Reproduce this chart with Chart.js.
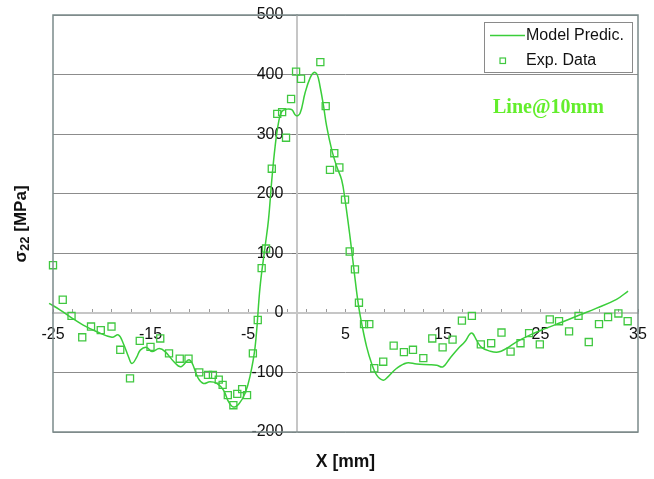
<!DOCTYPE html>
<html>
<head>
<meta charset="utf-8">
<script src="https://cdn.jsdelivr.net/npm/chart.js@4/dist/chart.umd.min.js"></script>
<style>
  html, body { margin: 0; padding: 0; background: #fff; }
  #wrap { width: 654px; height: 479px; position: relative; }
</style>
</head>
<body>
<div id="wrap"><canvas id="main-chart"></canvas></div>
<script>
// 模型预测曲线
const modelX = [-25.4, -24.25, -23.05, -21.9, -20.5, -18.95, -18.3, -17.8, -17.25, -16.9, -16.4, -16.05, -15.4, -14.86, -14.1, -13.5, -12.6, -11.9, -11.0, -10.1, -9.57, -8.9, -8.2, -7.5, -7.0, -6.5, -5.9, -5.3, -4.8, -4.27, -3.76, -3.25, -2.9, -2.56, -2.22, -1.88, -1.54, -1.02, -0.51, -0.07, 0.34, 0.85, 1.36, 1.77, 2.1, 2.39, 2.73, 3.07, 3.59, 4.1, 4.61, 4.95, 5.46, 5.87, 6.3, 6.66, 7.17, 7.68, 8.2, 8.87, 9.38, 10.25, 11.27, 12.3, 13.66, 14.34, 15.0, 15.7, 16.56, 17.24, 17.76, 18.03, 18.44, 18.95, 19.8, 20.66, 21.5, 22.54, 23.9, 25.27, 27.3, 29.0, 30.7, 32.8, 33.98];
const modelY = [16, 4.7, -9, -20.5, -31.7, -41, -37, -51, -74, -85, -74, -62.5, -58, -65, -60, -65, -82, -90.6, -79, -110, -118.5, -115.8, -118.5, -130, -149, -158, -152, -135, -107, -57, 44, 111, 156, 223, 279, 318.5, 338, 342, 341, 331, 335, 369, 394, 403.5, 399.7, 380, 349, 313, 273.6, 245.5, 223, 190, 128, 72, 16, -17.6, -57, -85, -104.5, -113, -107, -93, -84, -86, -87, -88, -90.6, -76.5, -59.7, -48.6, -35.6, -34.5, -45.7, -58, -64.2, -65.9, -59.7, -48.6, -37.3, -27.8, -15, -3.7, 7.5, 22.7, 36.6];

// 实验数据
const expX = [-25, -24, -23.1, -22, -21.1, -20.1, -19, -18.1, -17.1, -16.1, -15, -14, -13.1, -12, -11.1, -10, -9.1, -8.6, -8, -7.6, -7.07, -6.5, -6.1, -5.6, -5.1, -4.5, -4.0, -3.6, -3.15, -2.56, -2.0, -1.5, -1.1, -0.58, -0.07, 0.44, 2.42, 2.97, 3.41, 3.85, 4.37, 4.95, 5.43, 5.97, 6.38, 6.9, 7.44, 7.95, 8.87, 9.94, 10.99, 11.92, 12.98, 13.9, 14.96, 15.98, 16.94, 17.96, 18.88, 19.94, 21.0, 21.93, 22.95, 23.83, 24.93, 25.95, 26.9, 27.93, 28.9, 29.95, 31.0, 31.93, 32.99, 33.94];
const expY = [80, 22, -5, -41, -23, -29, -23, -62, -110, -47, -57, -43, -68, -77, -77, -100, -104, -104, -112, -121, -138, -155, -136, -128, -138, -68, -12, 75, 108, 242, 334, 337, 294, 359, 405, 393, 421, 347, 240, 268, 244, 190, 103, 73, 17, -19, -19, -93, -82, -55, -66, -62, -76, -43, -58, -45, -13, -5, -53, -51, -33, -65, -51, -34, -53, -11, -14, -31, -5, -49, -19, -7, -1, -14];

// 刻度
const xTicks = [-25, -23, -21, -19, -17, -15, -13, -11, -9, -7, -5, -3, -1, 1, 3, 5, 7, 9, 11, 13, 15, 17, 19, 21, 23, 25, 27, 29, 31, 33, 35];
const xLabels = [-25, -15, -5, 5, 15, 25, 35];
const yTicks = [-200, -100, 0, 100, 200, 300, 400, 500];

const seriesNames = ['Model Predic.', 'Exp. Data'];
const xTitle = 'X [mm]';
const yTitleSym = 'σ';
const yTitleSub = '22';
const yTitleUnit = ' [MPa]';
const noteText = 'Line@10mm';

const lineColor = 'rgb(58, 206, 58)';
const markColor = 'rgb(64, 200, 64)';
const sansFont = '"Liberation Sans", Arial, sans-serif';

// 去掉坐标轴自带的边距, 让绘图区只由 layout.padding 决定
function noScalePadding(scale) {
    scale.paddingLeft = 0;
    scale.paddingRight = 0;
    scale.paddingTop = 0;
    scale.paddingBottom = 0;
}

// 外框、标题、图例
const decorPlugin = {
    id: 'decor',
    afterDraw(chart) {
        const ctx = chart.ctx;
        const a = chart.chartArea;
        ctx.save();
        ctx.strokeStyle = '#7b8a8a';
        ctx.lineWidth = 1.5;
        ctx.strokeRect(a.left, a.top, a.right - a.left, a.bottom - a.top);

        // x 轴标题
        ctx.fillStyle = '#111';
        ctx.font = 'bold 17.5px ' + sansFont;
        ctx.textAlign = 'center';
        ctx.textBaseline = 'middle';
        ctx.fillText(xTitle, (a.left + a.right) / 2, 462);
        ctx.restore();

        // y 轴标题 (带下标)
        ctx.save();
        ctx.translate(20, 224);
        ctx.rotate(-Math.PI / 2);
        const big = 'bold 17px ' + sansFont;
        const small = 'bold 13px ' + sansFont;
        ctx.font = big;
        const w1 = ctx.measureText(yTitleSym).width;
        const w3 = ctx.measureText(yTitleUnit).width;
        ctx.font = small;
        const w2 = ctx.measureText(yTitleSub).width;
        const x0 = -(w1 + w2 + w3) / 2;
        ctx.fillStyle = '#111';
        ctx.textAlign = 'left';
        ctx.textBaseline = 'alphabetic';
        ctx.font = big;
        ctx.fillText(yTitleSym, x0, 6);
        ctx.font = small;
        ctx.fillText(yTitleSub, x0 + w1, 9);
        ctx.font = big;
        ctx.fillText(yTitleUnit, x0 + w1 + w2, 6);
        ctx.restore();

        // 图例
        ctx.save();
        ctx.fillStyle = '#fff';
        ctx.fillRect(484.5, 22.5, 148, 50);
        ctx.strokeStyle = '#8a8a8a';
        ctx.lineWidth = 1;
        ctx.strokeRect(484.5, 22.5, 148, 50);
        ctx.strokeStyle = lineColor;
        ctx.lineWidth = 1.5;
        ctx.beginPath();
        ctx.moveTo(490, 35.5);
        ctx.lineTo(525, 35.5);
        ctx.stroke();
        ctx.strokeStyle = markColor;
        ctx.lineWidth = 1.2;
        ctx.strokeRect(500, 58, 5.5, 5.5);
        ctx.fillStyle = '#111';
        ctx.font = '16px ' + sansFont;
        ctx.textAlign = 'left';
        ctx.textBaseline = 'middle';
        ctx.fillText(seriesNames[0], 526, 36);
        ctx.fillText(seriesNames[1], 526, 61);

        // 注释
        ctx.fillStyle = '#63ee2c';
        ctx.font = 'bold 20px "Liberation Serif", "Times New Roman", serif';
        ctx.textAlign = 'left';
        ctx.textBaseline = 'alphabetic';
        ctx.fillText(noteText, 493, 112.5);
        ctx.restore();
    }
};

const ctx = document.getElementById('main-chart').getContext('2d');
new Chart(ctx, {
    type: 'scatter',
    data: {
        datasets: [
            {
                label: seriesNames[0],
                data: modelX.map((x, i) => ({ x: x, y: modelY[i] })),
                showLine: true,
                borderColor: lineColor,
                borderWidth: 1.5,
                pointRadius: 0,
                tension: 0.4,
                clip: 6,
                order: 2
            },
            {
                label: seriesNames[1],
                data: expX.map((x, i) => ({ x: x, y: expY[i] })),
                showLine: false,
                pointStyle: 'rect',
                pointRadius: 5,
                borderColor: markColor,
                backgroundColor: 'rgba(0,0,0,0)',
                borderWidth: 1.3,
                clip: 8,
                order: 1
            }
        ]
    },
    options: {
        responsive: true,
        maintainAspectRatio: false,
        animation: false,
        layout: {
            padding: { left: 53, right: 16, top: 15, bottom: 47 }
        },
        scales: {
            x: {
                type: 'linear',
                min: -25,
                max: 35,
                position: { y: 0 },
                afterBuildTicks: (scale) => {
                    scale.ticks = xTicks.map(v => ({ value: v }));
                },
                afterFit: noScalePadding,
                ticks: {
                    autoSkip: false,
                    maxRotation: 0,
                    padding: 17.5,
                    color: '#111',
                    font: { size: 16, family: sansFont },
                    callback: (v) => xLabels.includes(v) ? String(v) : ''
                },
                grid: {
                    drawOnChartArea: false,
                    drawTicks: true,
                    tickLength: -5,
                    tickColor: '#9a9a9a',
                    tickWidth: 1
                },
                border: { display: true, color: '#c6c6c6', width: 2 }
            },
            y: {
                type: 'linear',
                min: -200,
                max: 500,
                position: { x: 0 },
                afterBuildTicks: (scale) => {
                    scale.ticks = yTicks.map(v => ({ value: v }));
                },
                afterFit: noScalePadding,
                ticks: {
                    color: '#111',
                    font: { size: 16, family: sansFont },
                    // 标签在轴线左侧留出空隙
                    callback: (v) => v + '   '
                },
                grid: {
                    color: '#8c8c8c',
                    lineWidth: 1,
                    drawTicks: true,
                    tickLength: 4,
                    tickColor: '#777'
                },
                border: { display: true, color: '#c6c6c6', width: 2 }
            }
        },
        plugins: {
            legend: { display: false },
            tooltip: { enabled: false }
        }
    },
    plugins: [decorPlugin]
});
</script>
</body>
</html>
